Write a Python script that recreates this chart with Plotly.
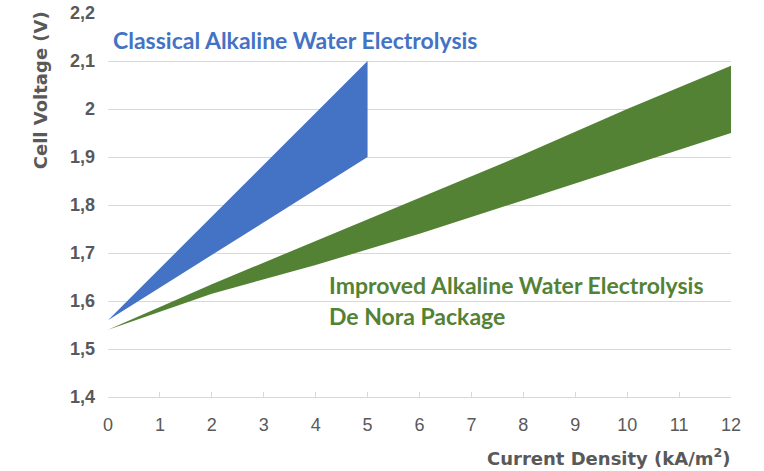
import plotly.graph_objects as go

# Data
blue_x = [0, 5]
blue_upper = [1.56, 2.10]
blue_lower = [1.56, 1.90]

green_x = [0, 2, 4, 6, 8, 10, 12]
green_upper = [1.54, 1.635, 1.725, 1.815, 1.905, 2.00, 2.09]
green_lower = [1.54, 1.615, 1.675, 1.74, 1.81, 1.88, 1.95]

x_ticks = list(range(0, 13))
y_ticks = [1.4, 1.5, 1.6, 1.7, 1.8, 1.9, 2.0, 2.1, 2.2]
y_ticktext = ["1,4", "1,5", "1,6", "1,7", "1,8", "1,9", "2", "2,1", "2,2"]

BLUE = "#4472C4"
GREEN = "#548235"
GREY = "#595959"
AX_FONT = "Liberation Sans, Arial, sans-serif"
TITLE_FONT = "DejaVu Sans, sans-serif"

fig = go.Figure()
fig.add_trace(go.Scatter(
    x=blue_x + blue_x[::-1], y=blue_upper + blue_lower[::-1],
    fill="toself", fillcolor=BLUE, mode="lines", line=dict(width=0, color=BLUE),
    hoverinfo="skip", showlegend=False))
fig.add_trace(go.Scatter(
    x=green_x + green_x[::-1], y=green_upper + green_lower[::-1],
    fill="toself", fillcolor=GREEN, mode="lines", line=dict(width=0, color=GREEN),
    hoverinfo="skip", showlegend=False))

fig.update_layout(
    width=764, height=471,
    margin=dict(l=108, r=33, t=13, b=74),
    paper_bgcolor="white", plot_bgcolor="white",
    font=dict(family=AX_FONT, color=GREY),
    xaxis=dict(range=[0, 12], tickvals=x_ticks, showgrid=False,
               showline=True, linecolor="#d9d9d9", linewidth=1,
               ticks="inside", ticklen=5, tickcolor="#d9d9d9",
               tickprefix="<b>", ticksuffix="</b>",
               tickfont=dict(size=18, color=GREY, family=AX_FONT), zeroline=False,
               ticklabelstandoff=11, ticklabeloverflow="allow", automargin=False),
    yaxis=dict(range=[1.4, 2.2], tickvals=y_ticks, ticktext=["<b>%s</b>" % t for t in y_ticktext],
               showgrid=True, gridcolor="#d9d9d9", gridwidth=1,
               showline=False, zeroline=False, ticks="",
               tickfont=dict(size=18, color=GREY, family=AX_FONT), ticklabelstandoff=12,
               ticklabeloverflow="allow", automargin=False),
    annotations=[
        dict(text="<b>Current Density (kA/m<sup>2</sup>)</b>", xref="paper", yref="paper",
             x=1.004, y=-0.156, xanchor="right", yanchor="middle", showarrow=False,
             font=dict(size=18, color=GREY, family=TITLE_FONT)),
        dict(text="<b>Cell Voltage (V)</b>", xref="paper", yref="paper",
             x=-0.109, y=1.01, xanchor="center", yanchor="top", textangle=-90, showarrow=False,
             font=dict(size=18, color=GREY, family=TITLE_FONT)),
        dict(text="<b>Classical Alkaline Water Electrolysis</b>", xref="x", yref="y",
             x=0.06, y=2.1436, xanchor="left", yanchor="middle", showarrow=False,
             font=dict(size=23, color=BLUE, family="Lato, sans-serif")),
        dict(text="<b>Improved Alkaline Water Electrolysis</b>", xref="x", yref="y",
             x=4.22, y=1.634, xanchor="left", yanchor="middle", showarrow=False,
             font=dict(size=23, color=GREEN, family="Lato, sans-serif")),
        dict(text="<b>De Nora Package</b>", xref="x", yref="y",
             x=4.22, y=1.5695, xanchor="left", yanchor="middle", showarrow=False,
             font=dict(size=23, color=GREEN, family="Lato, sans-serif")),
    ],
)

fig.write_html("out.html", config={"displayModeBar": False},
               post_script="document.body.style.margin='0';")
